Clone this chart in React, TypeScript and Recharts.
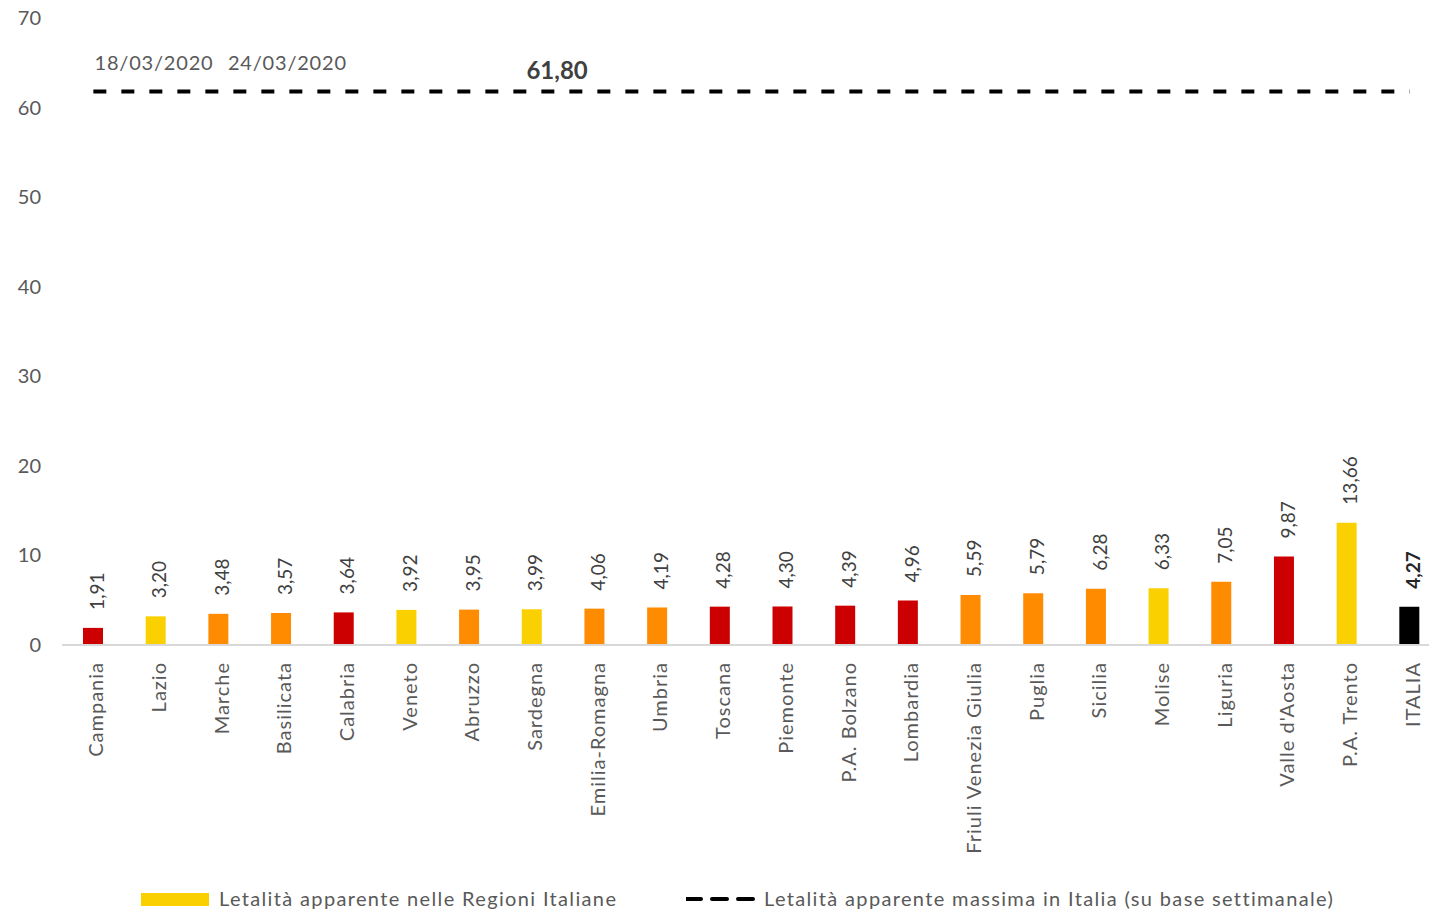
import React from 'react';
import { ComposedChart, Bar, Line, XAxis, YAxis, Cell, LabelList } from 'recharts';

const regions = [
  'Campania', 'Lazio', 'Marche', 'Basilicata', 'Calabria', 'Veneto', 'Abruzzo', 'Sardegna',
  'Emilia-Romagna', 'Umbria', 'Toscana', 'Piemonte', 'P.A. Bolzano', 'Lombardia',
  'Friuli Venezia Giulia', 'Puglia', 'Sicilia', 'Molise', 'Liguria', "Valle d'Aosta",
  'P.A. Trento', 'ITALIA',
];
const letalita = [
  1.91, 3.2, 3.48, 3.57, 3.64, 3.92, 3.95, 3.99, 4.06, 4.19, 4.28, 4.3, 4.39, 4.96,
  5.59, 5.79, 6.28, 6.33, 7.05, 9.87, 13.66, 4.27,
];
// r = rosso, o = arancione, g = giallo, n = nero (totale nazionale)
const zone = ['r', 'g', 'o', 'o', 'r', 'g', 'o', 'g', 'o', 'o', 'r', 'r', 'r', 'r', 'o', 'o', 'o', 'g', 'o', 'r', 'g', 'n'];
const massimo = 61.8;
const lineNotes = ['', '18/03/2020', '', '24/03/2020', '', '', '', '61,80', '', '', '', '', '', '', '', '', '', '', '', '', '', ''];
const yTicks = [0, 10, 20, 30, 40, 50, 60, 70];

const COLORS: Record<string, string> = { r: '#CC0000', o: '#FF8C00', g: '#FAD000', n: '#000000' };
const FONT = 'Lato, "Open Sans", sans-serif';
const GREY = '#595959';

const data = regions.map((name, i) => ({ name, value: letalita[i], max: massimo, zone: zone[i], note: lineNotes[i] }));

const fmt = (v: number) => v.toFixed(2).replace('.', ',');

const XTick = (props: any) => {
  const { x, y, payload } = props;
  return (
    <text
      transform={`translate(${x + 3},${y + 9}) rotate(-90)`}
      textAnchor="end"
      dy="0.35em"
      fontSize={20}
      letterSpacing={1}
      fontFamily={FONT}
      fill={GREY}
    >
      {payload.value}
    </text>
  );
};

const YTick = (props: any) => {
  const { y, payload } = props;
  return (
    <text x={41} y={y} textAnchor="end" dy="0.35em" fontSize={20} fontFamily={FONT} fill={GREY}>
      {payload.value}
    </text>
  );
};

const ValueLabel = (props: any) => {
  const { x, y, width, value, index } = props;
  const cx = x + width / 2 + 4;
  const bold = regions[index] === 'ITALIA';
  return (
    <text
      transform={`translate(${cx},${y - 18}) rotate(-90)`}
      textAnchor="start"
      dy="0.35em"
      fontSize={19}
      fontWeight={bold ? 700 : 400}
      fontFamily={FONT}
      fill={bold ? '#262626' : '#404040'}
    >
      {fmt(value)}
    </text>
  );
};

const NoteLabel = (props: any) => {
  const { x, y, index } = props;
  const note = lineNotes[index];
  if (!note) return null;
  const big = note === '61,80';
  const dx = big ? 25 : index === 3 ? 6 : -2;
  return (
    <text
      x={x + dx}
      y={y - (big ? 12 : 21)}
      textAnchor="middle"
      fontSize={big ? 24 : 20}
      fontWeight={big ? 700 : 400}
      letterSpacing={big ? 0 : 0.8}
      fontFamily={FONT}
      fill={big ? '#404040' : GREY}
    >
      {note}
    </text>
  );
};

export default function App() {
  return (
    <div style={{ position: 'fixed', left: 0, top: 0, width: 1429, height: 910, overflow: 'hidden', background: '#fff' }}>
      <ComposedChart
        width={1460}
        height={930}
        data={data}
        margin={{ top: 18, right: 19, bottom: 55, left: 0 }}
        barCategoryGap={0}
      >
        <XAxis
          dataKey="name"
          interval={0}
          height={230}
          tick={<XTick />}
          tickLine={false}
          axisLine={{ stroke: '#D9D9D9', strokeWidth: 2 }}
        />
        <YAxis
          domain={[0, 70]}
          ticks={yTicks}
          width={62}
          axisLine={false}
          tickLine={false}
          tick={<YTick />}
        />
        <Bar dataKey="value" barSize={20} isAnimationActive={false}>
          {data.map((d, i) => (
            <Cell key={i} fill={COLORS[d.zone]} />
          ))}
          <LabelList dataKey="value" content={<ValueLabel />} />
        </Bar>
        <Line
          dataKey="max"
          stroke="#000"
          strokeWidth={4}
          strokeDasharray="13 15"
          dot={false}
          activeDot={false}
          isAnimationActive={false}
        >
          <LabelList dataKey="note" content={<NoteLabel />} />
        </Line>
      </ComposedChart>
      <div
        style={{
          position: 'absolute',
          top: 886,
          left: 0,
          width: 1429,
          fontFamily: FONT,
          fontSize: 20,
          letterSpacing: 1.35,
          color: GREY,
          whiteSpace: 'nowrap',
        }}
      >
        <span style={{ position: 'absolute', left: 141, top: 7, width: 68, height: 13, background: '#FAD000' }} />
        <span style={{ position: 'absolute', left: 219, top: 0 }}>Letalità apparente nelle Regioni Italiane</span>
        <svg style={{ position: 'absolute', left: 686, top: 10 }} width={72} height={6}>
          <line x1={0} y1={3} x2={72} y2={3} stroke="#000" strokeWidth={4} strokeDasharray="15 11" strokeLinecap="round" />
        </svg>
        <span style={{ position: 'absolute', left: 764, top: 0 }}>Letalità apparente massima in Italia (su base settimanale)</span>
      </div>
    </div>
  );
}
